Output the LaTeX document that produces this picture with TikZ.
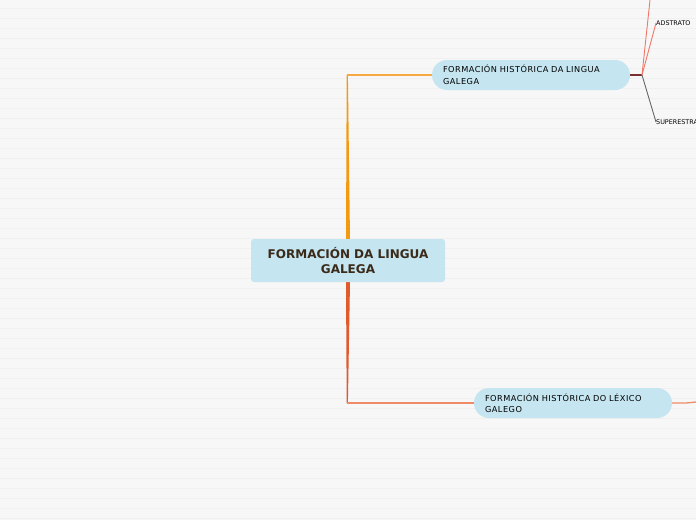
\documentclass[tikz,border=0pt]{standalone}
\usepackage{fontspec}
\setmainfont{DejaVu Sans}
\usepackage{tikz}
\usetikzlibrary{positioning}
\definecolor{bgcol}{HTML}{F7F7F7}
\definecolor{stripe}{HTML}{F0F0F0}
\definecolor{boxcol}{HTML}{C5E5F0}
\definecolor{txtcol}{HTML}{3A2A1A}
\definecolor{trunkup}{HTML}{F39A12}
\definecolor{branchup}{HTML}{F7A840}
\definecolor{trunkdown}{HTML}{E05A2E}
\definecolor{branchdown}{HTML}{EE8A68}
\definecolor{stub}{HTML}{7A3030}
\definecolor{leafred}{HTML}{F07868}
\definecolor{leafgray}{HTML}{666666}
\tikzset{
  rootbox/.style={fill=boxcol, rounded corners=3pt, minimum width=194pt, minimum height=43pt,
    align=center, text=txtcol, font=\bfseries\fontsize{12}{14.5}\selectfont, inner sep=0pt},
  topicbox/.style={fill=boxcol, rounded corners=15pt, minimum width=198pt, minimum height=30pt,
    align=left, text width=176pt, text=black,
    font=\fontsize{8.2}{11.5}\selectfont\addfontfeatures{LetterSpace=6}, inner sep=0pt},
  leaf/.style={anchor=west, inner sep=0pt, font=\fontsize{6.4}{8}\selectfont, text=black}
}
\begin{document}
\begin{tikzpicture}[x=1pt,y=-1pt]
	\useasboundingbox (0,0) rectangle (696,520);
	\fill[bgcol] (0,0) rectangle (696,520);
	\foreach \y in {8,18,...,518}
	{\draw[stripe, line width=0.6pt] (0,\y) -- (696,\y);}
	% trunks
	\fill[trunkup] (346,240) -- (350,240) -- (347.9,75) -- (346.7,75) -- cycle;
	\fill[trunkdown] (346,282) -- (350,282) -- (347.9,403) -- (346.7,403) -- cycle;
	% nodes
	\node[rootbox] (root) at (348,260.5) {FORMACIÓN DA LINGUA\\GALEGA};
	\node[topicbox] (hist) at (531,75) {FORMACIÓN HISTÓRICA DA LINGUA\\GALEGA};
	\node[topicbox] (lex) at (573,403) {FORMACIÓN HISTÓRICA DO LÉXICO\\GALEGO};
	\coordinate (hup) at (346.7,75);
	\coordinate (hdown) at (346.7,403);
	\coordinate (hj) at (642,75);
	\coordinate (lj) at (686,403);
	\coordinate (lend) at (696,402);
	\coordinate (topend) at (650,0);
	\node[leaf] (adst) at (656,23) {ADSTRATO};
	\node[leaf] (super) at (656,122) {SUPERESTRATO};
	% branches
	\draw[branchup, line width=1.3pt] (hup) -- (hist.west);
	\draw[branchdown, line width=1.3pt] (hdown) -- (lex.west);
	\draw[stub, line width=1.2pt] (hist.east) -- (hj);
	\draw[leafred, line width=0.9pt] (hj) -- (topend);
	\draw[leafred, line width=0.9pt] (hj) -- (adst.west);
	\draw[leafgray, line width=0.9pt] (hj) -- (super.west);
	\draw[branchdown, line width=1.3pt] (lex.east) -- (lj) -- (lend);
\end{tikzpicture}
\end{document}
